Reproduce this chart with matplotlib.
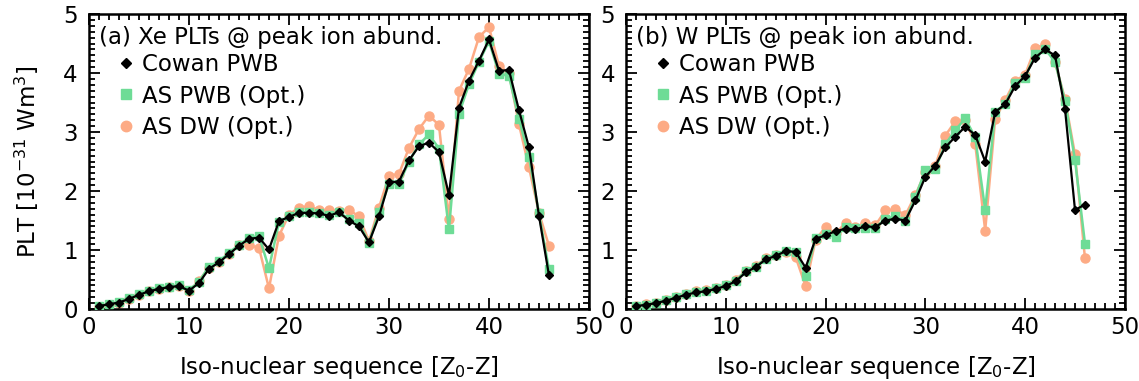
import numpy as np
import matplotlib
matplotlib.use('Agg')
import matplotlib.pyplot as plt
from matplotlib.ticker import MultipleLocator
from matplotlib.lines import Line2D

# iso-nuclear sequence index Z0-Z
seq = np.arange(1, 47)

# (a) Xe
xe_cowan = [0.05, 0.08, 0.11, 0.17, 0.24, 0.30, 0.34, 0.37, 0.39, 0.31,
            0.44, 0.68, 0.79, 0.93, 1.07, 1.19, 1.21, 1.01, 1.49, 1.56,
            1.63, 1.63, 1.62, 1.58, 1.64, 1.50, 1.40, 1.13, 1.57, 2.15,
            2.16, 2.52, 2.76, 2.82, 2.66, 1.93, 3.41, 3.87, 4.21, 4.57,
            4.04, 4.05, 3.37, 2.74, 1.58, 0.57]
xe_as_pwb = [0.05, 0.08, 0.12, 0.18, 0.25, 0.31, 0.35, 0.38, 0.40, 0.32,
             0.46, 0.72, 0.81, 0.95, 1.09, 1.20, 1.24, 0.69, 1.47, 1.57,
             1.64, 1.64, 1.63, 1.60, 1.64, 1.52, 1.46, 1.12, 1.64, 2.12,
             2.12, 2.50, 2.79, 2.96, 2.72, 1.35, 3.31, 3.81, 4.19, 4.54,
             3.99, 3.95, 3.22, 2.58, 1.62, 0.67]
xe_as_dw = [0.04, 0.07, 0.11, 0.17, 0.24, 0.30, 0.34, 0.37, 0.39, 0.30,
            0.48, 0.70, 0.80, 0.94, 1.08, 1.08, 1.04, 0.35, 1.24, 1.60,
            1.72, 1.74, 1.68, 1.68, 1.66, 1.68, 1.57, 1.15, 1.72, 2.26,
            2.29, 2.73, 3.05, 3.28, 3.12, 1.53, 3.70, 4.07, 4.61, 4.78,
            4.12, 4.00, 3.13, 2.40, 1.63, 1.07]

# (b) W
w_cowan = [0.05, 0.07, 0.10, 0.14, 0.19, 0.24, 0.28, 0.30, 0.34, 0.39,
           0.47, 0.62, 0.71, 0.84, 0.90, 0.98, 0.97, 0.70, 1.19, 1.25,
           1.32, 1.36, 1.35, 1.40, 1.39, 1.50, 1.53, 1.50, 1.84, 2.24,
           2.43, 2.74, 2.92, 3.09, 2.95, 2.50, 3.34, 3.47, 3.78, 3.95,
           4.26, 4.40, 4.30, 3.39, 1.68, 1.77]
w_as_pwb = [0.05, 0.07, 0.10, 0.15, 0.20, 0.25, 0.29, 0.31, 0.35, 0.40,
            0.48, 0.64, 0.72, 0.85, 0.92, 0.99, 0.96, 0.56, 1.20, 1.27,
            1.22, 1.39, 1.38, 1.38, 1.38, 1.53, 1.57, 1.50, 1.90, 2.35,
            2.38, 2.79, 3.03, 3.23, 2.91, 1.68, 3.34, 3.48, 3.84, 3.92,
            4.32, 4.41, 4.19, 3.53, 2.53, 1.11]
w_as_dw = [0.05, 0.08, 0.11, 0.15, 0.21, 0.26, 0.30, 0.32, 0.36, 0.41,
           0.50, 0.64, 0.73, 0.86, 0.92, 0.97, 0.88, 0.39, 1.17, 1.39,
           1.28, 1.46, 1.39, 1.46, 1.42, 1.67, 1.69, 1.59, 1.93, 2.32,
           2.43, 2.94, 3.18, 3.20, 2.80, 1.33, 3.22, 3.54, 3.87, 3.97,
           4.42, 4.49, 4.18, 3.56, 2.62, 0.86]

panels = [
    ('(a) Xe PLTs @ peak ion abund.', xe_cowan, xe_as_pwb, xe_as_dw),
    ('(b) W PLTs @ peak ion abund.', w_cowan, w_as_pwb, w_as_dw),
]

green = '#6edc96'
salmon = '#fdab85'
fs = 16.5

plt.rcParams['font.family'] = 'DejaVu Sans'
plt.rcParams['font.size'] = fs

fig = plt.figure(figsize=(11.39, 3.81), dpi=100)
ax_a = fig.add_axes([0.0781, 0.189, 0.439, 0.774])
ax_b = fig.add_axes([0.5496, 0.189, 0.438, 0.774])

for ax, (title, cowan, pwb, dw) in zip([ax_a, ax_b], panels):
    ax.plot(seq, dw, color=salmon, marker='o', markersize=6.5, lw=1.8, zorder=2)
    ax.plot(seq, pwb, color=green, marker='s', markersize=6.2, lw=1.8, zorder=3)
    ax.plot(seq, cowan, color='black', marker='D', markersize=4.5, lw=1.6, zorder=4)

    ax.set_xlim(0, 50)
    ax.set_ylim(0, 5)
    ax.xaxis.set_major_locator(MultipleLocator(10))
    ax.xaxis.set_minor_locator(MultipleLocator(1))
    ax.yaxis.set_major_locator(MultipleLocator(1))
    ax.yaxis.set_minor_locator(MultipleLocator(0.1))
    ax.tick_params(which='both', direction='in', top=True, right=True, width=1.3)
    ax.tick_params(which='major', length=8, labelsize=fs)
    ax.tick_params(axis='y', which='major', pad=8)
    ax.tick_params(axis='x', which='major', pad=5)
    ax.tick_params(which='minor', length=4)
    for sp in ax.spines.values():
        sp.set_linewidth(1.8)

    # zero label sits above its tick, top label slightly below
    fig.canvas.draw()
    ylabels = ax.get_yticklabels()
    ylabels[0].set_verticalalignment('bottom')
    ylabels[-1].set_verticalalignment('center_baseline')

    ax.text(0.02, 0.922, title, transform=ax.transAxes, fontsize=fs,
            va='center', ha='left')
    handles = [
        Line2D([], [], ls='none', marker='D', color='black', markersize=5),
        Line2D([], [], ls='none', marker='s', color=green, markersize=7),
        Line2D([], [], ls='none', marker='o', color=salmon, markersize=7.5),
    ]
    labels = ['Cowan PWB', 'AS PWB (Opt.)', 'AS DW (Opt.)']
    ax.legend(handles, labels, loc='upper left',
              bbox_to_anchor=(0.055, 0.875), frameon=False, fontsize=fs,
              handlelength=0.6, handletextpad=0.4, labelspacing=0.36,
              borderpad=0.1, borderaxespad=0.0)
    ax.set_xlabel('Iso-nuclear sequence [Z$_0$-Z]', fontsize=fs, labelpad=11)

ax_a.set_ylabel('PLT [10$^{-31}$ Wm$^3$]', fontsize=fs, labelpad=16)

fig.savefig('out.png', dpi=100)
